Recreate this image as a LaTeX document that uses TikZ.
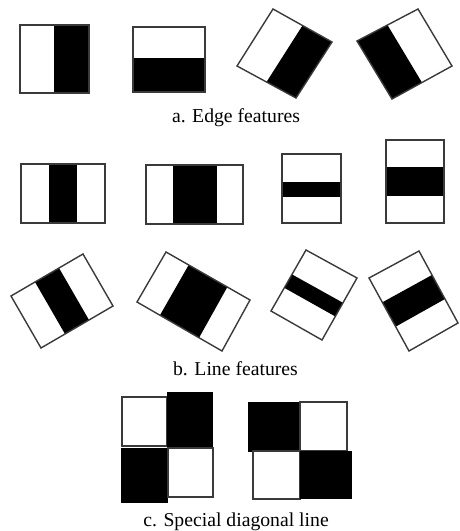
\documentclass[tikz,border=0pt]{standalone}
\usepackage{fontspec}
\setmainfont{Liberation Serif}
\usetikzlibrary{calc}
\definecolor{edgecol}{HTML}{3A3A3A}
\begin{document}
\begin{tikzpicture}[x=1pt,y=-1pt,
  outline/.style={draw=edgecol,line width=1.4pt,line join=miter},
  blk/.style={fill=black},
  caption/.style={anchor=base,inner sep=0pt,font=\fontsize{19.7}{22}\selectfont}]
\useasboundingbox (0,0) rectangle (459,531);

% ---------- a. Edge features ----------
\fill[blk] (54,25) rectangle (89,93);
\draw[outline] (20,25) rectangle (89,93);

\fill[blk] (133,58) rectangle (205,92);
\draw[outline] (133,27) rectangle (205,92);

\coordinate (a3T) at (273,9);
\coordinate (a3R) at (332,42);
\coordinate (a3B) at (296,98);
\coordinate (a3L) at (237,66);
\fill[blk] ($(a3T)!0.5!(a3R)$) -- (a3R) -- (a3B) -- ($(a3L)!0.5!(a3B)$) -- cycle;
\draw[outline] (a3T) -- (a3R) -- (a3B) -- (a3L) -- cycle;

\coordinate (a4T) at (418,9);
\coordinate (a4R) at (452,66);
\coordinate (a4B) at (392,99);
\coordinate (a4L) at (357,41);
\fill[blk] (a4L) -- ($(a4L)!0.5!(a4T)$) -- ($(a4B)!0.5!(a4R)$) -- (a4B) -- cycle;
\draw[outline] (a4T) -- (a4R) -- (a4B) -- (a4L) -- cycle;

\node[caption] (capA) at (236,122.7) {a. Edge features};

% ---------- b. Line features, upright ----------
\fill[blk] (49,164) rectangle (77,223);
\draw[outline] (21,164) rectangle (105,223);

\fill[blk] (173,165) rectangle (217,224);
\draw[outline] (146,165) rectangle (243,224);

\fill[blk] (282,182) rectangle (341,197);
\draw[outline] (282,154) rectangle (341,223);

\fill[blk] (386,167) rectangle (444,196);
\draw[outline] (386,140) rectangle (444,223);

% ---------- b. Line features, rotated ----------
\coordinate (b1T) at (83,254);
\coordinate (b1R) at (113,306);
\coordinate (b1B) at (41,348);
\coordinate (b1L) at (11,296);
\fill[blk] ($(b1L)!1/3!(b1T)$) -- ($(b1L)!2/3!(b1T)$) -- ($(b1B)!2/3!(b1R)$) -- ($(b1B)!1/3!(b1R)$) -- cycle;
\draw[outline] (b1T) -- (b1R) -- (b1B) -- (b1L) -- cycle;

\coordinate (b2T) at (166,252);
\coordinate (b2R) at (250,300);
\coordinate (b2B) at (222,351);
\coordinate (b2L) at (137,302);
\fill[blk] ($(b2T)!0.27!(b2R)$) -- ($(b2T)!0.73!(b2R)$) -- ($(b2L)!0.73!(b2B)$) -- ($(b2L)!0.27!(b2B)$) -- cycle;
\draw[outline] (b2T) -- (b2R) -- (b2B) -- (b2L) -- cycle;

\coordinate (b3T) at (306,250);
\coordinate (b3R) at (357,278);
\coordinate (b3B) at (322,340);
\coordinate (b3L) at (271,311);
\fill[blk] ($(b3T)!0.4!(b3L)$) -- ($(b3T)!0.62!(b3L)$) -- ($(b3R)!0.62!(b3B)$) -- ($(b3R)!0.4!(b3B)$) -- cycle;
\draw[outline] (b3T) -- (b3R) -- (b3B) -- (b3L) -- cycle;

\coordinate (b4T) at (419,251);
\coordinate (b4R) at (458,323);
\coordinate (b4B) at (409,351);
\coordinate (b4L) at (369,278);
\fill[blk] ($(b4L)!1/3!(b4B)$) -- ($(b4L)!2/3!(b4B)$) -- ($(b4T)!2/3!(b4R)$) -- ($(b4T)!1/3!(b4R)$) -- cycle;
\draw[outline] (b4T) -- (b4R) -- (b4B) -- (b4L) -- cycle;

\node[caption] (capB) at (235.5,375) {b. Line features};

% ---------- c. Special diagonal line ----------
\draw[outline] (122,397) rectangle (167,446);
\fill[blk] (167,392) rectangle (213,447);
\fill[blk] (121,448) rectangle (168,503);
\draw[outline] (168,448) rectangle (213,497);

\fill[blk] (248,402) rectangle (300,452);
\draw[outline] (300,402) rectangle (347,451);
\draw[outline] (253,451) rectangle (300,499);
\fill[blk] (300,451) rectangle (352,499);

\node[caption] (capC) at (236,526) {c. Special diagonal line};
\end{tikzpicture}
\end{document}
